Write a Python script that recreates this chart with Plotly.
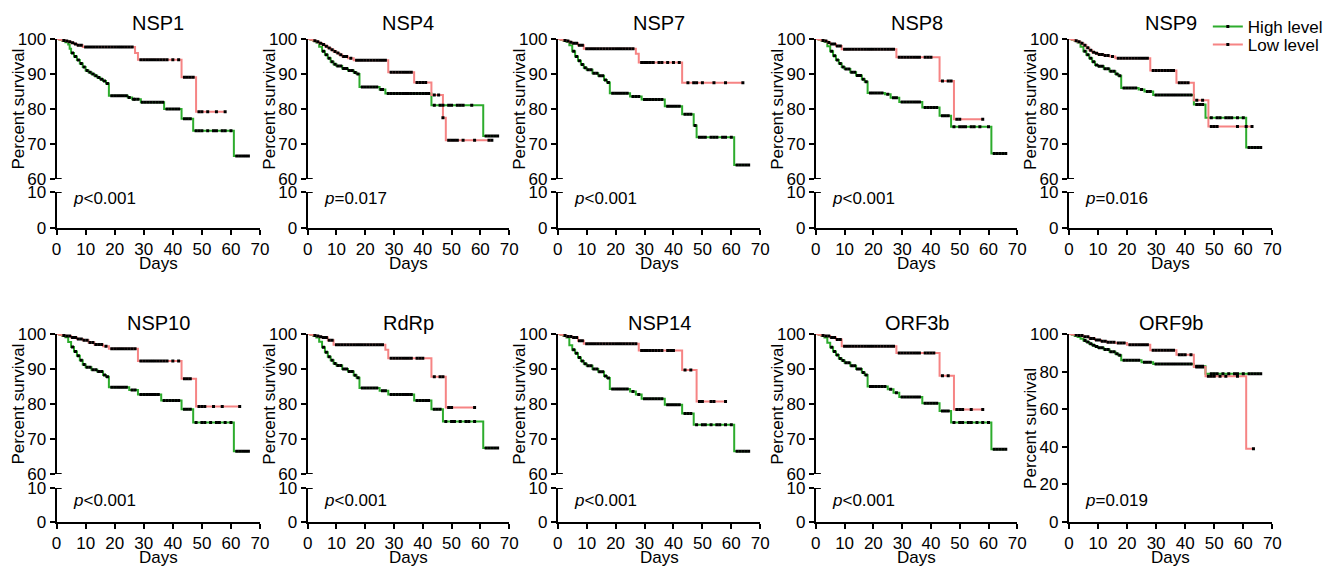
import plotly.graph_objects as go

# ---------------- data ----------------
panels = ["NSP1", "NSP4", "NSP7", "NSP8", "NSP9", "NSP10", "RdRp", "NSP14", "ORF3b", "ORF9b"]
p_values = ["<0.001", "=0.017", "<0.001", "<0.001", "=0.016", "<0.001", "<0.001", "<0.001", "<0.001", "=0.019"]
series_names = ["High level", "Low level"]
x_ticks = [0, 10, 20, 30, 40, 50, 60, 70]
y_ticks_upper = [60, 70, 80, 90, 100]
y_ticks_lower = [0, 10]
y_ticks_full = [0, 20, 40, 60, 80, 100]

early_g = [5.5, 6.5, 7.5, 8.5, 9.5, 10.5, 11.5, 12.5, 13.5, 14.5, 15.5, 16.5, 17.5]
early_p = [2.5, 3.5, 4.5, 5.5, 6.5, 7.5, 8.5]

# NSP1
nsp1_high_t = [1, 2, 3, 4, 4.5, 5, 6, 7, 8, 9, 10, 11, 12, 13, 14, 15, 16, 17, 18, 24.5, 26, 29, 37, 43, 47, 61]
nsp1_high_s = [99.7, 99.4, 99.1, 98.4, 97.2, 96.0, 95.0, 94.0, 93.0, 92.0, 91.0, 90.5, 90.0, 89.5, 89.0, 88.5, 88.0, 87.3, 83.8, 83.3, 82.8, 81.9, 80.0, 77.2, 73.8, 66.6]
nsp1_high_c = early_g + [19, 20, 21, 22, 23, 24, 25, 26.5, 27, 28, 29.5, 30.5, 31.5, 32.5, 33.5, 34.5, 35.5, 36.5, 38, 39, 40, 41, 42, 44, 45, 46, 48, 49, 50, 52, 54, 55, 57, 58, 60, 62, 63, 64, 65, 66]
nsp1_low_t = [1, 2, 3, 4, 5, 6, 7, 9, 27, 28, 43, 48]
nsp1_low_s = [99.8, 99.6, 99.4, 99.2, 98.9, 98.6, 98.2, 97.7, 96.0, 94.1, 89.1, 79.2]
nsp1_low_c = early_p + [10, 11, 12, 13, 14, 15, 16, 17, 18, 19, 20, 21, 22, 23, 24, 25, 26, 29, 30, 31, 32, 33, 34, 35, 36, 37, 38, 40, 42, 44, 45, 46, 47, 49, 50, 52, 55, 58]

# NSP4
nsp4_high_t = [1, 2, 3, 4, 5, 6, 7, 8, 9, 10, 12, 14, 16, 17, 18, 25, 27, 43, 61]
nsp4_high_s = [99.7, 99.4, 99.0, 97.8, 96.5, 95.5, 94.5, 93.5, 92.8, 92.3, 91.6, 91.0, 90.4, 90.0, 86.3, 85.6, 84.4, 81.1, 72.3]
nsp4_high_c = early_g + [19, 20, 21, 22, 23, 24, 25.5, 26, 28, 29, 30, 31, 32, 33, 34, 35, 36, 37, 38, 39, 40, 41, 42, 44, 46, 47, 49, 50, 52, 53, 54, 57, 62, 63, 64, 65, 66]
nsp4_low_t = [1, 2, 3, 4, 5, 6, 7, 8, 9, 10, 11, 12, 14, 16, 28, 37, 43, 47, 48]
nsp4_low_s = [99.8, 99.5, 99.2, 98.8, 98.4, 97.9, 97.4, 96.9, 96.4, 96.0, 95.5, 95.0, 94.5, 93.9, 90.5, 87.6, 84.0, 77.5, 71.1]
nsp4_low_c = early_p + [9.5, 10.5, 11.5, 12.5, 13.5, 15, 17, 18, 19, 20, 21, 22, 23, 24, 25, 26, 27, 29, 30, 31, 32, 33, 34, 35, 36, 38, 39, 40, 41, 44, 45.5, 47, 49, 50, 51, 52, 54, 58, 63, 64]

# NSP7
nsp7_high_t = [1, 2, 3, 4, 5, 6, 7, 8, 9, 10, 12, 14, 16, 17, 18, 25, 29, 37, 43, 47, 48, 61]
nsp7_high_s = [99.7, 99.5, 99.2, 98.2, 96.5, 95.0, 93.8, 92.7, 91.8, 91.2, 90.2, 89.5, 88.3, 87.6, 84.5, 83.6, 82.7, 80.8, 78.5, 75.3, 71.9, 64.0]
nsp7_high_c = early_g + [19, 20, 21, 22, 23, 24, 26, 27, 28, 30, 31, 32, 33, 34, 35, 36, 38, 39, 40, 41, 42, 44, 45, 46, 47.5, 49, 50, 51, 53, 54, 55, 57, 58, 60, 62, 63, 64, 65, 66]
nsp7_low_t = [1, 2, 3, 4, 5, 7, 9, 27, 28, 43]
nsp7_low_s = [99.8, 99.6, 99.4, 99.1, 98.8, 98.2, 97.2, 95.8, 93.3, 87.5]
nsp7_low_c = early_p + [10, 11, 12, 13, 14, 15, 16, 17, 18, 19, 20, 21, 22, 23, 24, 25, 26, 29, 30, 31, 32, 33, 35, 36, 38, 40, 42, 45, 47, 48, 50, 54, 58, 64]

# NSP8
nsp8_high_t = [1, 2, 3, 4, 5, 6, 7, 8, 9, 10, 12, 14, 16, 17, 18, 24, 26, 29, 37, 43, 47, 61]
nsp8_high_s = [99.7, 99.5, 99.2, 97.9, 96.5, 95.2, 94.0, 93.0, 92.0, 91.4, 90.5, 89.6, 88.5, 87.8, 84.6, 84.2, 83.2, 82.0, 80.4, 78.1, 74.9, 67.3]
nsp8_high_c = early_g + [19, 20, 21, 22, 23, 25, 27, 28, 30, 31, 32, 33, 34, 35, 36, 38, 39, 40, 41, 42, 44, 45, 46, 48, 50, 51, 52, 54, 55, 57, 60, 62, 63, 64, 65, 66]
nsp8_low_t = [1, 2, 3, 4, 5, 7, 9, 28, 43, 48]
nsp8_low_s = [99.8, 99.6, 99.4, 99.0, 98.6, 98.0, 97.1, 94.8, 88.0, 77.1]
nsp8_low_c = early_p + [10, 11, 12, 13, 14, 15, 16, 17, 18, 19, 20, 21, 22, 23, 24, 25, 26, 27, 29, 30, 31, 32, 33, 34, 35, 36, 38, 39, 40, 44, 46, 47, 49, 50, 58]

# NSP9
nsp9_high_t = [1, 2, 3, 4, 5, 6, 7, 8, 9, 10, 12, 14, 16, 17, 18, 24, 26, 29, 43, 47, 61]
nsp9_high_s = [99.7, 99.4, 99.0, 97.8, 96.5, 95.5, 94.5, 93.5, 92.6, 92.2, 91.5, 90.8, 90.0, 89.5, 86.0, 85.6, 85.0, 84.0, 81.3, 77.5, 69.0]
nsp9_high_c = early_g + [19, 20, 21, 22, 23, 25, 27, 28, 30, 31, 32, 33, 34, 35, 36, 37, 38, 39, 40, 41, 42, 44, 45, 46, 49, 51, 52, 54, 55, 56, 58, 60, 62, 63, 64, 65, 66]
nsp9_low_t = [1, 2, 3, 4, 5, 6, 7, 8, 9, 10, 12, 14, 16, 28, 37, 43, 48]
nsp9_low_s = [99.8, 99.5, 99.2, 98.8, 98.2, 97.5, 96.8, 96.2, 95.9, 95.6, 95.3, 95.0, 94.5, 91.0, 87.5, 82.5, 75.0]
nsp9_low_c = early_p + [9.5, 10.5, 11.5, 12.5, 13.5, 15, 17, 18, 19, 20, 21, 22, 23, 24, 25, 26, 27, 29, 30, 31, 32, 33, 34, 35, 36, 38, 39, 40, 41, 44, 46, 49, 50, 51, 58, 61, 63]

# NSP10
nsp10_high_t = [1, 2, 3, 4, 5, 6, 7, 8, 9, 10, 12, 14, 16, 17, 18, 25, 28, 36, 43, 47, 61]
nsp10_high_s = [99.7, 99.4, 99.1, 97.7, 96.3, 95.0, 93.8, 92.5, 91.3, 90.5, 89.8, 89.3, 88.3, 87.8, 84.8, 84.0, 82.7, 81.0, 78.5, 74.7, 66.5]
nsp10_high_c = early_g + [19, 20, 21, 22, 23, 24, 26, 27, 29, 30, 31, 32, 33, 34, 35, 37, 38, 39, 40, 41, 42, 44, 45, 46, 48, 50, 51, 53, 55, 56, 58, 60, 62, 63, 64, 65, 66]
nsp10_low_t = [1, 2, 3, 5, 7, 9, 11, 13, 16, 18, 28, 43, 48]
nsp10_low_s = [99.8, 99.6, 99.4, 99.0, 98.6, 98.2, 97.6, 97.0, 96.5, 95.8, 92.3, 87.2, 79.3]
nsp10_low_c = early_p + [9.5, 10.5, 11.5, 12.5, 13.5, 14.5, 15.5, 17, 19, 20, 21, 22, 23, 24, 25, 26, 27, 29, 30, 31, 32, 33, 34, 35, 36, 37, 38, 40, 42, 44, 45, 46, 49, 50, 51, 54, 57, 63]

# RdRp
rdrp_high_t = [1, 2, 3, 4, 5, 6, 7, 8, 9, 10, 12, 14, 16, 17, 18, 25, 28, 37, 43, 47, 61]
rdrp_high_s = [99.7, 99.4, 99.0, 97.8, 96.2, 94.8, 93.5, 92.5, 91.6, 91.0, 90.0, 89.3, 88.2, 87.5, 84.6, 83.8, 82.7, 81.0, 78.5, 75.0, 67.4]
rdrp_high_c = early_g + [19, 20, 21, 22, 23, 24, 26, 27, 29, 30, 31, 32, 33, 34, 35, 36, 38, 39, 40, 41, 42, 44, 45, 46, 48, 50, 51, 53, 55, 56, 58, 62, 63, 64, 65, 66]
rdrp_low_t = [1, 2, 3, 4, 5, 7, 9, 27, 28, 43, 48]
rdrp_low_s = [99.8, 99.6, 99.4, 99.2, 99.0, 98.2, 96.9, 95.5, 93.1, 87.8, 79.0]
rdrp_low_c = early_p + [10, 11, 12, 13, 14, 15, 16, 17, 18, 19, 20, 21, 22, 23, 24, 25, 26, 29, 30, 31, 32, 33, 34, 35, 36, 38, 39, 40, 44, 46, 47, 49, 50, 58]

# NSP14
nsp14_high_t = [1, 2, 3, 4, 5, 6, 7, 8, 9, 10, 12, 14, 16, 17, 18, 25, 27, 29, 37, 43, 47, 61]
nsp14_high_s = [99.7, 99.4, 99.0, 96.8, 95.5, 94.5, 93.3, 92.3, 91.5, 90.9, 90.0, 89.2, 88.0, 87.4, 84.3, 83.6, 82.7, 81.5, 79.8, 77.3, 74.1, 66.5]
nsp14_high_c = early_g + [19, 20, 21, 22, 23, 24, 26, 28, 30, 31, 32, 33, 34, 35, 36, 38, 39, 40, 41, 42, 44, 45, 46, 48, 50, 51, 53, 55, 56, 58, 60, 62, 63, 64, 65, 66]
nsp14_low_t = [1, 2, 3, 5, 7, 9, 28, 43, 48]
nsp14_low_s = [99.8, 99.6, 99.3, 99.0, 98.1, 97.2, 95.3, 89.7, 80.7]
nsp14_low_c = early_p + [10, 11, 12, 13, 14, 15, 16, 17, 18, 19, 20, 21, 22, 23, 24, 25, 26, 27, 29, 30, 31, 32, 33, 34, 35, 36, 38, 39, 40, 44, 46, 49, 50, 53, 54, 58]

# ORF3b
orf3b_high_t = [1, 2, 3, 4, 5, 6, 7, 8, 9, 10, 12, 14, 16, 17, 18, 25, 27, 29, 37, 43, 47, 61]
orf3b_high_s = [99.7, 99.4, 99.0, 97.5, 96.2, 95.0, 94.0, 93.0, 92.4, 91.8, 90.9, 90.0, 89.0, 88.3, 85.0, 84.2, 83.2, 82.0, 80.2, 78.0, 74.7, 67.1]
orf3b_high_c = early_g + [19, 20, 21, 22, 23, 24, 26, 28, 30, 31, 32, 33, 34, 35, 36, 38, 39, 40, 41, 42, 44, 45, 46, 48, 50, 51, 53, 54, 56, 58, 60, 62, 63, 64, 65, 66]
orf3b_low_t = [1, 2, 3, 5, 7, 9, 28, 43, 48]
orf3b_low_s = [99.8, 99.6, 99.4, 99.0, 98.4, 96.5, 94.6, 88.1, 78.4]
orf3b_low_c = early_p + [10, 11, 12, 13, 14, 15, 16, 17, 18, 19, 20, 21, 22, 23, 24, 25, 26, 27, 29, 30, 31, 32, 33, 34, 35, 36, 38, 39, 40, 41, 44, 46, 49, 50, 51, 54, 58]

# ORF9b
orf9b_high_t = [1, 2, 3, 4, 5, 6, 7, 8, 9, 10, 12, 14, 16, 17, 18, 25, 29, 43, 47]
orf9b_high_s = [99.6, 99.0, 98.4, 97.5, 96.6, 95.7, 94.8, 94.0, 93.3, 92.7, 91.8, 90.5, 89.5, 88.7, 86.0, 85.0, 84.0, 82.8, 78.8]
orf9b_high_c = early_g + [19, 20, 21, 22, 23, 24, 26, 27, 28, 30, 31, 32, 33, 34, 35, 36, 37, 38, 39, 40, 41, 42, 44, 45, 46, 49, 50, 51, 53, 55, 57, 58, 60, 62, 63, 64, 65, 66]
orf9b_low_t = [1, 2, 3, 5, 7, 9, 11, 13, 16, 20, 28, 37, 43, 47, 61]
orf9b_low_s = [99.8, 99.5, 99.2, 98.5, 97.6, 96.8, 96.2, 95.6, 95.2, 94.3, 91.4, 88.9, 82.5, 77.5, 38.9]
orf9b_low_c = early_p + [9.5, 10.5, 11.5, 12.5, 13.5, 14.5, 15.5, 17, 18, 19, 21, 22, 23, 24, 25, 26, 27, 29, 30, 31, 32, 33, 34, 35, 36, 38, 39, 40, 42, 44, 45, 46, 48, 49, 50, 52, 54, 58, 63.5]

curves = {
    "NSP1": ((nsp1_high_t, nsp1_high_s, nsp1_high_c), (nsp1_low_t, nsp1_low_s, nsp1_low_c)),
    "NSP4": ((nsp4_high_t, nsp4_high_s, nsp4_high_c), (nsp4_low_t, nsp4_low_s, nsp4_low_c)),
    "NSP7": ((nsp7_high_t, nsp7_high_s, nsp7_high_c), (nsp7_low_t, nsp7_low_s, nsp7_low_c)),
    "NSP8": ((nsp8_high_t, nsp8_high_s, nsp8_high_c), (nsp8_low_t, nsp8_low_s, nsp8_low_c)),
    "NSP9": ((nsp9_high_t, nsp9_high_s, nsp9_high_c), (nsp9_low_t, nsp9_low_s, nsp9_low_c)),
    "NSP10": ((nsp10_high_t, nsp10_high_s, nsp10_high_c), (nsp10_low_t, nsp10_low_s, nsp10_low_c)),
    "RdRp": ((rdrp_high_t, rdrp_high_s, rdrp_high_c), (rdrp_low_t, rdrp_low_s, rdrp_low_c)),
    "NSP14": ((nsp14_high_t, nsp14_high_s, nsp14_high_c), (nsp14_low_t, nsp14_low_s, nsp14_low_c)),
    "ORF3b": ((orf3b_high_t, orf3b_high_s, orf3b_high_c), (orf3b_low_t, orf3b_low_s, orf3b_low_c)),
    "ORF9b": ((orf9b_high_t, orf9b_high_s, orf9b_high_c), (orf9b_low_t, orf9b_low_s, orf9b_low_c)),
}

# ---------------- styling / layout ----------------
W, H = 1328, 566
FONT = "Arial, 'Liberation Sans', Helvetica, sans-serif"
COLORS = ["rgb(45,172,45)", "rgb(246,132,132)"]
col_px = [(57, 262), (310, 513), (562, 766), (822, 1025), (1077, 1282)]
row_px = [dict(up=(39, 179), low=(192, 228), full=(39, 228), title=16, pv=8.3),
          dict(up=(334, 474), low=(488, 522), full=(334, 522), title=11, pv=6.4)]
legend_rows_px = [27, 45]


def xdom(a, b):
    return [a / W, b / W]


def ydom(top, bottom):
    return [1 - bottom / H, 1 - top / H]


def step_xy(t, s, c):
    end = max(list(t) + list(c))
    return [0] + list(t) + [end], [100] + list(s) + [s[-1]]


def censor_y(t, s, c):
    out = []
    for ci in c:
        lev = 100
        for ti, si in zip(t, s):
            if ti <= ci:
                lev = si
        out.append(lev)
    return out


axis_common = dict(showline=True, linecolor="black", linewidth=2, ticks="outside",
                   ticklen=5, tickwidth=2, tickcolor="black", showgrid=False, zeroline=False,
                   automargin=False, tickfont=dict(family=FONT, size=17, color="black"), fixedrange=True)

fig = go.Figure()
layout = {}
annotations = []
shapes = []
yi = 0
for k, name in enumerate(panels):
    r, cidx = divmod(k, 5)
    rp = row_px[r]
    xa, xb = col_px[cidx]
    xn = k + 1
    xref = "x" if xn == 1 else f"x{xn}"
    full = name == "ORF9b"
    if full:
        yi += 1
        yu = yi
        yl = yi
        layout["yaxis" if yu == 1 else f"yaxis{yu}"] = dict(
            axis_common, domain=ydom(*rp["full"]), range=[0, 100], tickvals=y_ticks_full, anchor=xref)
    else:
        yi += 1
        yu = yi
        yi += 1
        yl = yi
        layout["yaxis" if yu == 1 else f"yaxis{yu}"] = dict(
            axis_common, domain=ydom(*rp["up"]), range=[60, 100], tickvals=y_ticks_upper, anchor=xref)
        layout[f"yaxis{yl}"] = dict(
            axis_common, domain=ydom(*rp["low"]), range=[0, 10], tickvals=y_ticks_lower, anchor=xref)
    yuref = "y" if yu == 1 else f"y{yu}"
    ylref = "y" if yl == 1 else f"y{yl}"
    layout["xaxis" if xn == 1 else f"xaxis{xn}"] = dict(
        axis_common, domain=xdom(xa, xb), range=[0, 70], tickvals=x_ticks, anchor=ylref)

    # curves
    for j, (t, s, c) in enumerate(curves[name]):
        xs, ys = step_xy(t, s, c)
        fig.add_trace(go.Scatter(x=xs, y=ys, mode="lines", line=dict(color=COLORS[j], width=2, shape="hv"),
                                 xaxis=xref, yaxis=yuref, showlegend=False, hoverinfo="skip"))
    for j, (t, s, c) in enumerate(curves[name]):
        fig.add_trace(go.Scatter(x=c, y=censor_y(t, s, c), mode="markers",
                                 marker=dict(color="black", size=3, symbol="square"),
                                 xaxis=xref, yaxis=yuref, showlegend=False, hoverinfo="skip"))

    # broken-axis crossing ticks
    if not full:
        for yv, yr in ((60, yuref), (10, ylref)):
            shapes.append(dict(type="line", xref=f"{xref} domain", x0=0, x1=0.025, yref=yr, y0=yv, y1=yv,
                               line=dict(color="black", width=2)))

    # texts
    annotations.append(dict(text=name, xref=f"{xref} domain", x=0.5, yref=f"{yuref} domain", y=1,
                            yshift=rp["title"], yanchor="middle", xanchor="center", showarrow=False,
                            font=dict(family=FONT, size=20, color="black")))
    annotations.append(dict(text="Percent survival", xref=f"{xref} domain", x=0, xshift=-39,
                            yref=f"{yuref} domain", y=0.5, textangle=-90, showarrow=False,
                            xanchor="center", yanchor="middle", font=dict(family=FONT, size=17, color="black")))
    annotations.append(dict(text="Days", xref=f"{xref} domain", x=0.5, yref=f"{ylref} domain", y=0,
                            yshift=-35, yanchor="middle", xanchor="center", showarrow=False,
                            font=dict(family=FONT, size=17, color="black")))
    pv = p_values[k].replace("<", "&lt;")
    annotations.append(dict(text=f"<i>p</i>{pv}", xref=f"{xref} domain", x=0.07, yref=ylref,
                            y=11.7 if full else rp["pv"], xanchor="left", yanchor="middle", showarrow=False,
                            font=dict(family=FONT, size=17, color="black")))

# legend entries (one legend per entry so their spacing can match the reference)
legend_defs = {}
for j, nm in enumerate(series_names):
    lg = "legend" if j == 0 else f"legend{j + 1}"
    fig.add_trace(go.Scatter(x=[None], y=[None], mode="lines+markers", name=nm,
                             line=dict(color=COLORS[j], width=2),
                             marker=dict(color="black", size=3, symbol="square"),
                             xaxis="x5", yaxis="y9", showlegend=True, legend=lg))
    legend_defs[lg] = dict(x=1217 / W, y=1 - legend_rows_px[j] / H, xanchor="left", yanchor="middle",
                           bgcolor="rgba(0,0,0,0)", borderwidth=0,
                           font=dict(family=FONT, size=17, color="black"), itemwidth=30)

fig.update_layout(
    template="none",
    width=W, height=H, margin=dict(l=0, r=0, t=0, b=0, pad=0), autosize=False,
    paper_bgcolor="white", plot_bgcolor="white",
    font=dict(family=FONT, size=17, color="black"),
    showlegend=True,
    annotations=annotations, shapes=shapes,
    **legend_defs,
    **layout,
)

fig.write_html("out.html", config={"displayModeBar": False, "staticPlot": True},
               post_script="document.body.style.margin='0';document.body.style.overflow='hidden';")
